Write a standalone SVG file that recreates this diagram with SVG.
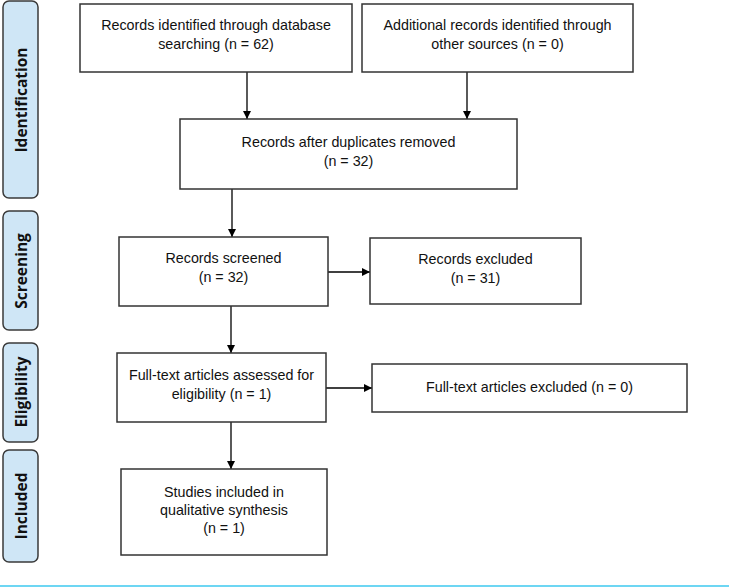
<svg xmlns="http://www.w3.org/2000/svg" width="729" height="587" viewBox="0 0 729 587">
<style>
.box{fill:#fff;stroke:#333;stroke-width:1.5}
.side{fill:#cfe6f6;stroke:#3a3a3a;stroke-width:1.5}
.t{font-family:"Liberation Sans",Arial,sans-serif;font-size:14.3px;fill:#111;text-anchor:middle}
.s{font-family:"Open Sans","Liberation Sans",sans-serif;font-size:15.5px;font-weight:bold;fill:#111;text-anchor:middle}
.c{stroke:#000;stroke-width:1.3;fill:none;marker-end:url(#ah)}
</style>
<defs>
<marker id="ah" viewBox="0 0 10 10" refX="10" refY="5" markerWidth="8" markerHeight="8" markerUnits="userSpaceOnUse" orient="auto">
<path d="M0,0 L10,5 L0,10 z" fill="#000"/>
</marker>
</defs>
<rect width="729" height="587" fill="#fff"/>
<g id="phase-identification"><rect class="side" x="3" y="1" width="35" height="197" rx="6"/><text class="s" transform="translate(26.5,100) rotate(-90)">Identification</text></g>
<g id="phase-screening"><rect class="side" x="3" y="211" width="35" height="119" rx="6"/><text class="s" transform="translate(26.5,271) rotate(-90)">Screening</text></g>
<g id="phase-eligibility"><rect class="side" x="3" y="343" width="35" height="99" rx="6"/><text class="s" transform="translate(26.5,392) rotate(-90)">Eligibility</text></g>
<g id="phase-included"><rect class="side" x="3" y="450" width="35" height="112" rx="6"/><text class="s" transform="translate(26.5,506) rotate(-90)">Included</text></g>
<g id="connectors">
<line class="c" x1="247" y1="72" x2="247" y2="119"/>
<line class="c" x1="467" y1="72" x2="467" y2="119"/>
<line class="c" x1="232" y1="189" x2="232" y2="237"/>
<line class="c" x1="328" y1="272" x2="370" y2="272"/>
<line class="c" x1="231" y1="306" x2="231" y2="353"/>
<line class="c" x1="326" y1="388" x2="372" y2="388"/>
<line class="c" x1="231" y1="422" x2="231" y2="469"/>
</g>
<g id="n1"><rect class="box" x="80" y="4" width="272" height="68"/><text class="t" x="216" y="30">Records identified through database</text><text class="t" x="216" y="49">searching (n = 62)</text></g>
<g id="n2"><rect class="box" x="362" y="4" width="271" height="68"/><text class="t" x="497.5" y="30">Additional records identified through</text><text class="t" x="497.5" y="49">other sources (n = 0)</text></g>
<g id="n3"><rect class="box" x="180" y="119" width="337" height="70"/><text class="t" x="348.5" y="147">Records after duplicates removed</text><text class="t" x="348.5" y="166">(n = 32)</text></g>
<g id="n4"><rect class="box" x="119" y="237" width="209" height="69"/><text class="t" x="223.5" y="263">Records screened</text><text class="t" x="223.5" y="282">(n = 32)</text></g>
<g id="n5"><rect class="box" x="370" y="238" width="211" height="66"/><text class="t" x="475.5" y="264">Records excluded</text><text class="t" x="475.5" y="283">(n = 31)</text></g>
<g id="n6"><rect class="box" x="117" y="353" width="209" height="69"/><text class="t" x="221.5" y="380">Full-text articles assessed for</text><text class="t" x="221.5" y="399">eligibility (n = 1)</text></g>
<g id="n7"><rect class="box" x="372" y="364" width="315" height="48"/><text class="t" x="529.5" y="392">Full-text articles excluded (n = 0)</text></g>
<g id="n8"><rect class="box" x="121" y="469" width="206" height="86"/><text class="t" x="224" y="497">Studies included in</text><text class="t" x="224" y="515">qualitative synthesis</text><text class="t" x="224" y="533">(n = 1)</text></g>
<line x1="0" y1="586" x2="729" y2="586" stroke="#3cc8ef" stroke-width="1.5"/>
</svg>
